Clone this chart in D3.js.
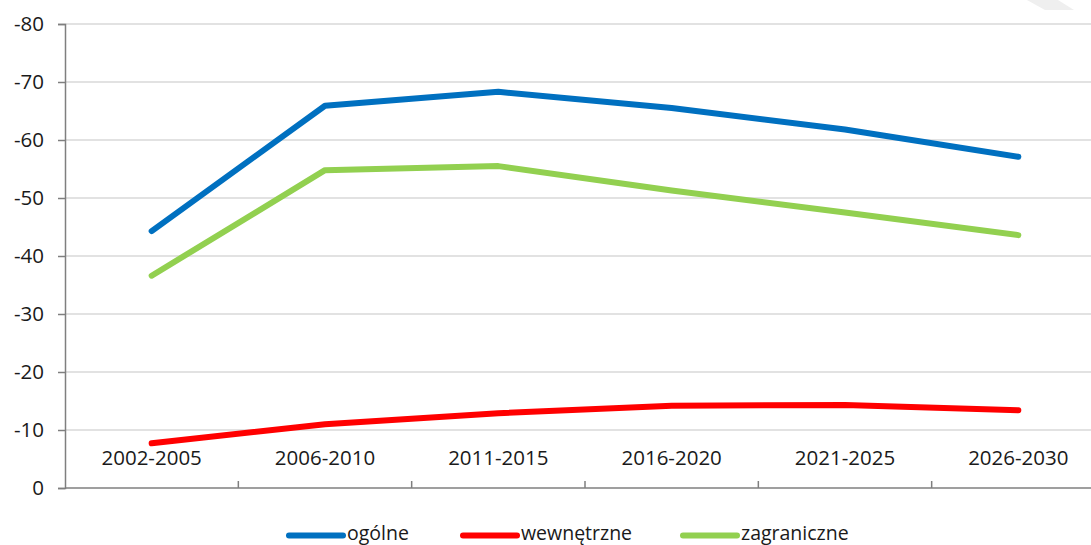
<!DOCTYPE html>
<html><head><meta charset="utf-8">
<script src="https://cdn.jsdelivr.net/npm/d3@7"></script>
<style>html,body{margin:0;padding:0;background:#fff;overflow:hidden}</style>
</head><body>
<svg id="c" width="1091" height="545"></svg>
<script>
const categories = ["2002-2005","2006-2010","2011-2015","2016-2020","2021-2025","2026-2030"];
const ogolne = [-44.3,-65.9,-68.3,-65.5,-61.8,-57.1];
const wewnetrzne = [-7.7,-11.0,-12.9,-14.2,-14.3,-13.4];
const zagraniczne = [-36.6,-54.8,-55.5,-51.3,-47.5,-43.6];
const yTicks = [0,-10,-20,-30,-40,-50,-60,-70,-80];
const seriesNames = ["ogólne","wewnętrzne","zagraniczne"];
const seriesColors = ["#0070C0","#FF0000","#92D050"];

const svg = d3.select("#c");
const font = "'Open Sans', sans-serif";
const textColor = "#1a1a1a";
const x = d3.scaleBand().domain(categories).range([65,1105]).padding(0);
const y = d3.scaleLinear().domain([0,-80]).range([488,24]);

// faint decoration top-right
svg.append("polygon").attr("points","1027,0 1058,0 1074,10 1045,10").attr("fill","#efefef");

// gridlines
svg.append("g").selectAll("line").data(yTicks.filter(d=>d!==0)).join("line")
  .attr("x1",65).attr("x2",1091).attr("y1",d=>y(d)).attr("y2",d=>y(d))
  .attr("stroke","#d9d9d9").attr("stroke-width",1.5);

// y axis
const yAxis = d3.axisLeft(y).tickValues(yTicks).tickSize(7).tickFormat(d=>String(d));
const gy = svg.append("g").attr("transform","translate(65,0)").call(yAxis);
gy.select(".domain").attr("stroke","#7f7f7f").attr("stroke-width",1.5);
gy.selectAll(".tick line").attr("stroke","#7f7f7f").attr("stroke-width",1.5);
gy.selectAll(".tick text").attr("x",-21).attr("font-family",font).attr("font-size",20.5).attr("fill",textColor);

// x axis line + ticks at band edges
svg.append("line").attr("x1",65).attr("x2",1091).attr("y1",y(0)).attr("y2",y(0))
  .attr("stroke","#7f7f7f").attr("stroke-width",1.5);
svg.append("g").selectAll("line").data(categories.slice(1)).join("line")
  .attr("x1",d=>x(d)).attr("x2",d=>x(d)).attr("y1",y(0)-7).attr("y2",y(0))
  .attr("stroke","#7f7f7f").attr("stroke-width",1.5);

// series lines
const line = d3.line().x((d,i)=>x(categories[i])+x.bandwidth()/2).y(d=>y(d));
const allSeries = [ogolne, wewnetrzne, zagraniczne];
[1,2,0].forEach(k=>{
  svg.append("path").datum(allSeries[k]).attr("d",line)
    .attr("fill","none").attr("stroke",seriesColors[k]).attr("stroke-width",6)
    .attr("stroke-linejoin","round").attr("stroke-linecap","round");
});

// category labels inside the plot above the axis
svg.append("g").selectAll("text").data(categories).join("text")
  .attr("x",d=>x(d)+x.bandwidth()/2).attr("y",465)
  .attr("text-anchor","middle").attr("font-family",font).attr("font-size",20.5).attr("fill",textColor)
  .text(d=>d);

// legend
const legX = [289,463,683];
const lg = svg.append("g");
seriesNames.forEach((n,i)=>{
  lg.append("line").attr("x1",legX[i]).attr("x2",legX[i]+54).attr("y1",535.5).attr("y2",535.5)
    .attr("stroke",seriesColors[i]).attr("stroke-width",6).attr("stroke-linecap","round");
  lg.append("text").attr("x",legX[i]+58).attr("y",540).attr("font-family",font).attr("font-size",19.5)
    .attr("fill",textColor).text(n);
});
</script>
</body></html>
